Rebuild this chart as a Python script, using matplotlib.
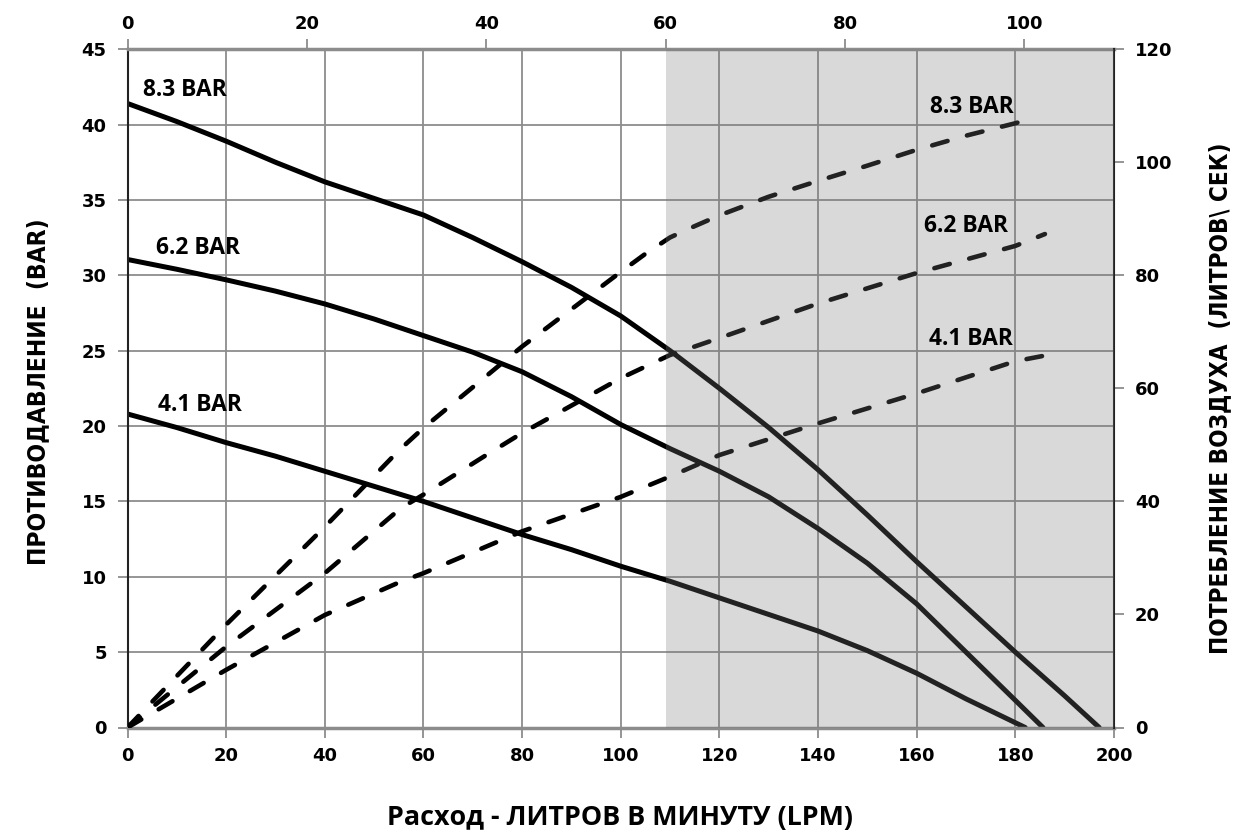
import matplotlib
matplotlib.use("Agg")
import matplotlib.pyplot as plt
from matplotlib import font_manager

plt.rcParams['lines.scale_dashes'] = False

# ---- data ----
# solid: back pressure (BAR) vs flow (LPM)
flow_83 = [0, 10, 20, 30, 40, 50, 60, 70, 80, 90, 100, 110, 120, 130, 140, 150, 160, 170, 180, 190, 197]
bar_83 = [41.4, 40.2, 38.9, 37.5, 36.2, 35.1, 34.0, 32.5, 30.9, 29.2, 27.3, 25.0, 22.5, 19.9, 17.1, 14.1, 11.0, 8.0, 5.0, 2.1, 0]

flow_62 = [0, 10, 20, 30, 40, 50, 60, 70, 80, 90, 100, 110, 120, 130, 140, 150, 160, 170, 180, 185.6]
bar_62 = [31.05, 30.4, 29.7, 28.95, 28.1, 27.1, 26.0, 24.9, 23.6, 21.95, 20.1, 18.5, 17.0, 15.3, 13.2, 10.9, 8.2, 5.0, 1.8, 0]

flow_41 = [0, 10, 20, 30, 40, 50, 60, 70, 80, 90, 100, 110, 120, 130, 140, 150, 160, 170, 182]
bar_41 = [20.8, 19.9, 18.9, 18.0, 17.0, 16.0, 15.0, 13.9, 12.8, 11.8, 10.7, 9.7, 8.6, 7.5, 6.4, 5.1, 3.6, 1.9, 0]

# dashed: air consumption (litres/sec, right axis) vs flow (LPM)
aflow_83 = [0, 20, 40, 55, 60, 80, 100, 105, 110, 115, 120, 130, 140, 150, 160, 170, 180, 183.8]
air_83 = [0, 18.2, 35.5, 49.0, 53.0, 67.4, 80.6, 83.8, 86.7, 88.7, 90.6, 93.9, 96.7, 99.4, 102.2, 104.7, 106.9, 107.9]

aflow_62 = [0, 20, 40, 55.4, 60, 72, 80, 100, 110, 120, 140, 160, 180, 186]
air_62 = [0, 14.3, 27.3, 38.8, 41.2, 47.8, 52.1, 61.8, 65.9, 68.9, 75.0, 80.4, 85.2, 87.3]

aflow_41 = [0, 20, 40, 55.4, 60, 80, 100, 110, 120, 140, 160, 180, 185.4]
air_41 = [0, 10.2, 19.9, 25.8, 27.3, 34.7, 40.8, 44.4, 48.2, 53.8, 59.1, 64.8, 65.7]

x_ticks = [0, 20, 40, 60, 80, 100, 120, 140, 160, 180, 200]
y_ticks = [0, 5, 10, 15, 20, 25, 30, 35, 40, 45]
y2_ticks = [0, 20, 40, 60, 80, 100, 120]
top_ticks = [0, 20, 40, 60, 80, 100]
top_max = 110
shade_start_top = 60

curve_labels = ["8.3 BAR", "6.2 BAR", "4.1 BAR"]

# pick a humanist sans that really has a bold face installed
ttf = font_manager.fontManager.ttflist
def has_bold(name):
    for f in ttf:
        if f.name == name and f.stretch == 'normal':
            w = f.weight
            if isinstance(w, str):
                if w in ('bold', 'heavy', 'black', 'extra bold', 'semibold', 'demibold', 'demi'):
                    return True
            elif w >= 600:
                return True
    return False

main = 'DejaVu Sans'
for cand in ['Open Sans', 'Noto Sans', 'Lato', 'Roboto', 'Liberation Sans']:
    if has_bold(cand):
        main = cand
        break
LABEL_FONT = [main, 'DejaVu Sans']
TICK_FONT = ['DejaVu Sans']
names = {f.name for f in ttf}
if 'Liberation Sans Narrow' in names:
    NARROW = dict(family=['Liberation Sans Narrow', 'DejaVu Sans'])
elif any('Condensed' in f.fname and 'DejaVuSans' in f.fname for f in ttf):
    NARROW = dict(family=['DejaVu Sans'], stretch='condensed')
else:
    NARROW = dict(family=LABEL_FONT)

fig = plt.figure(figsize=(12.38, 8.39), dpi=100)
ax = fig.add_axes([127.5/1238, 1-727.5/839, (1114-127.5)/1238, (727.5-49.2)/839])
ax.set_xlim(0, 200)
ax.set_ylim(0, 45)

ax2 = ax.twinx()
ax2.set_ylim(0, 120)

grid_c = '#8c8c8c'
ax.set_xticks(x_ticks)
ax.set_yticks(y_ticks)
ax.grid(True, color=grid_c, linewidth=1.3, zorder=0)
ax.set_axisbelow(True)

lw_solid = 3.6
lw_dash = 3.3
dash = (11.5, 14.5)
for fx, fy in [(flow_83, bar_83), (flow_62, bar_62), (flow_41, bar_41)]:
    ax.plot(fx, fy, color='black', lw=lw_solid, solid_capstyle='round', solid_joinstyle='round', zorder=2)
for fx, fy in [(aflow_83, air_83), (aflow_62, air_62), (aflow_41, air_41)]:
    ax2.plot(fx, fy, color='black', lw=lw_dash, dashes=dash, dash_capstyle='round', zorder=2)

# shaded region overlay (translucent grey)
x0 = shade_start_top * 200 / top_max
ax2.axvspan(x0, 200, ymin=0, ymax=1, facecolor=(0.473, 0.473, 0.473), alpha=0.282,
            edgecolor='none', zorder=3)

# curve labels
tkw = dict(fontsize=14.5, fontweight='bold', family=LABEL_FONT, fontstretch='normal',
           va='center', ha='left', zorder=5)
curve_texts = [
    ax.text(3.2, 42.3, curve_labels[0], **tkw),
    ax.text(5.8, 31.8, curve_labels[1], **tkw),
    ax.text(6.2, 21.4, curve_labels[2], **tkw),
    ax2.text(162.6, 109.7, curve_labels[0], **tkw),
    ax2.text(161.4, 88.8, curve_labels[1], **tkw),
    ax2.text(162.4, 68.7, curve_labels[2], **tkw),
]

# spines
for s in ['top', 'bottom']:
    ax.spines[s].set_color(grid_c)
    ax.spines[s].set_linewidth(2.5)
    ax2.spines[s].set_visible(False)
ax.spines['left'].set_color('#222222')
ax.spines['left'].set_linewidth(1.5)
ax2.spines['right'].set_color('#222222')
ax2.spines['right'].set_linewidth(1.5)
ax2.spines['left'].set_visible(False)
ax.spines['right'].set_visible(False)

tick_font = dict(fontsize=13, fontweight='bold', family=TICK_FONT)
ax.set_xticklabels([str(v) for v in x_ticks], **tick_font)
ax.set_yticklabels([str(v) for v in y_ticks], **tick_font)
ax2.set_yticks(y2_ticks)
ax2.set_yticklabels([str(v) for v in y2_ticks], **tick_font)
ax.tick_params(axis='x', length=7, width=1.3, color=grid_c, pad=7)
ax.tick_params(axis='y', length=7, width=1.3, color=grid_c, pad=8)
ax2.tick_params(axis='y', length=7, width=1.3, color=grid_c, pad=8)

sec = ax.secondary_xaxis('top', functions=(lambda v: v * top_max / 200, lambda v: v * 200 / top_max))
sec.set_xticks(top_ticks)
sec.set_xticklabels([str(v) for v in top_ticks], **tick_font)
sec.tick_params(axis='x', length=7, width=1.3, color=grid_c, pad=5)
sec.spines['top'].set_visible(False)

t_x = fig.text(620/1238, 1-818/839, "Расход - ЛИТРОВ В МИНУТУ (LPM)", ha='center', va='center',
               fontsize=17, fontweight='bold', family=LABEL_FONT, fontstretch='normal')
t_l = fig.text(38/1238, 1-392/839, "ПРОТИВОДАВЛЕНИЕ  (BAR)", ha='center', va='center', rotation=90,
               fontsize=16, fontweight='bold', **NARROW)
t_r = fig.text(1220/1238, 1-398/839, "ПОТРЕБЛЕНИЕ ВОЗДУХА  (ЛИТРОВ\\ СЕК)", ha='center', va='center',
               rotation=90, fontsize=16, fontweight='bold', **NARROW)

# fit text sizes to the reference extents
fig.canvas.draw()
r = fig.canvas.get_renderer()
fits = [(t_x, 468, False), (t_l, 350, True), (t_r, 515, True)] + [(t, 84, False) for t in curve_texts]
for t, target, vertical in fits:
    bb = t.get_window_extent(r)
    cur = bb.height if vertical else bb.width
    t.set_fontsize(t.get_fontsize() * target / cur)

fig.savefig("out.png", dpi=100, facecolor='white')
